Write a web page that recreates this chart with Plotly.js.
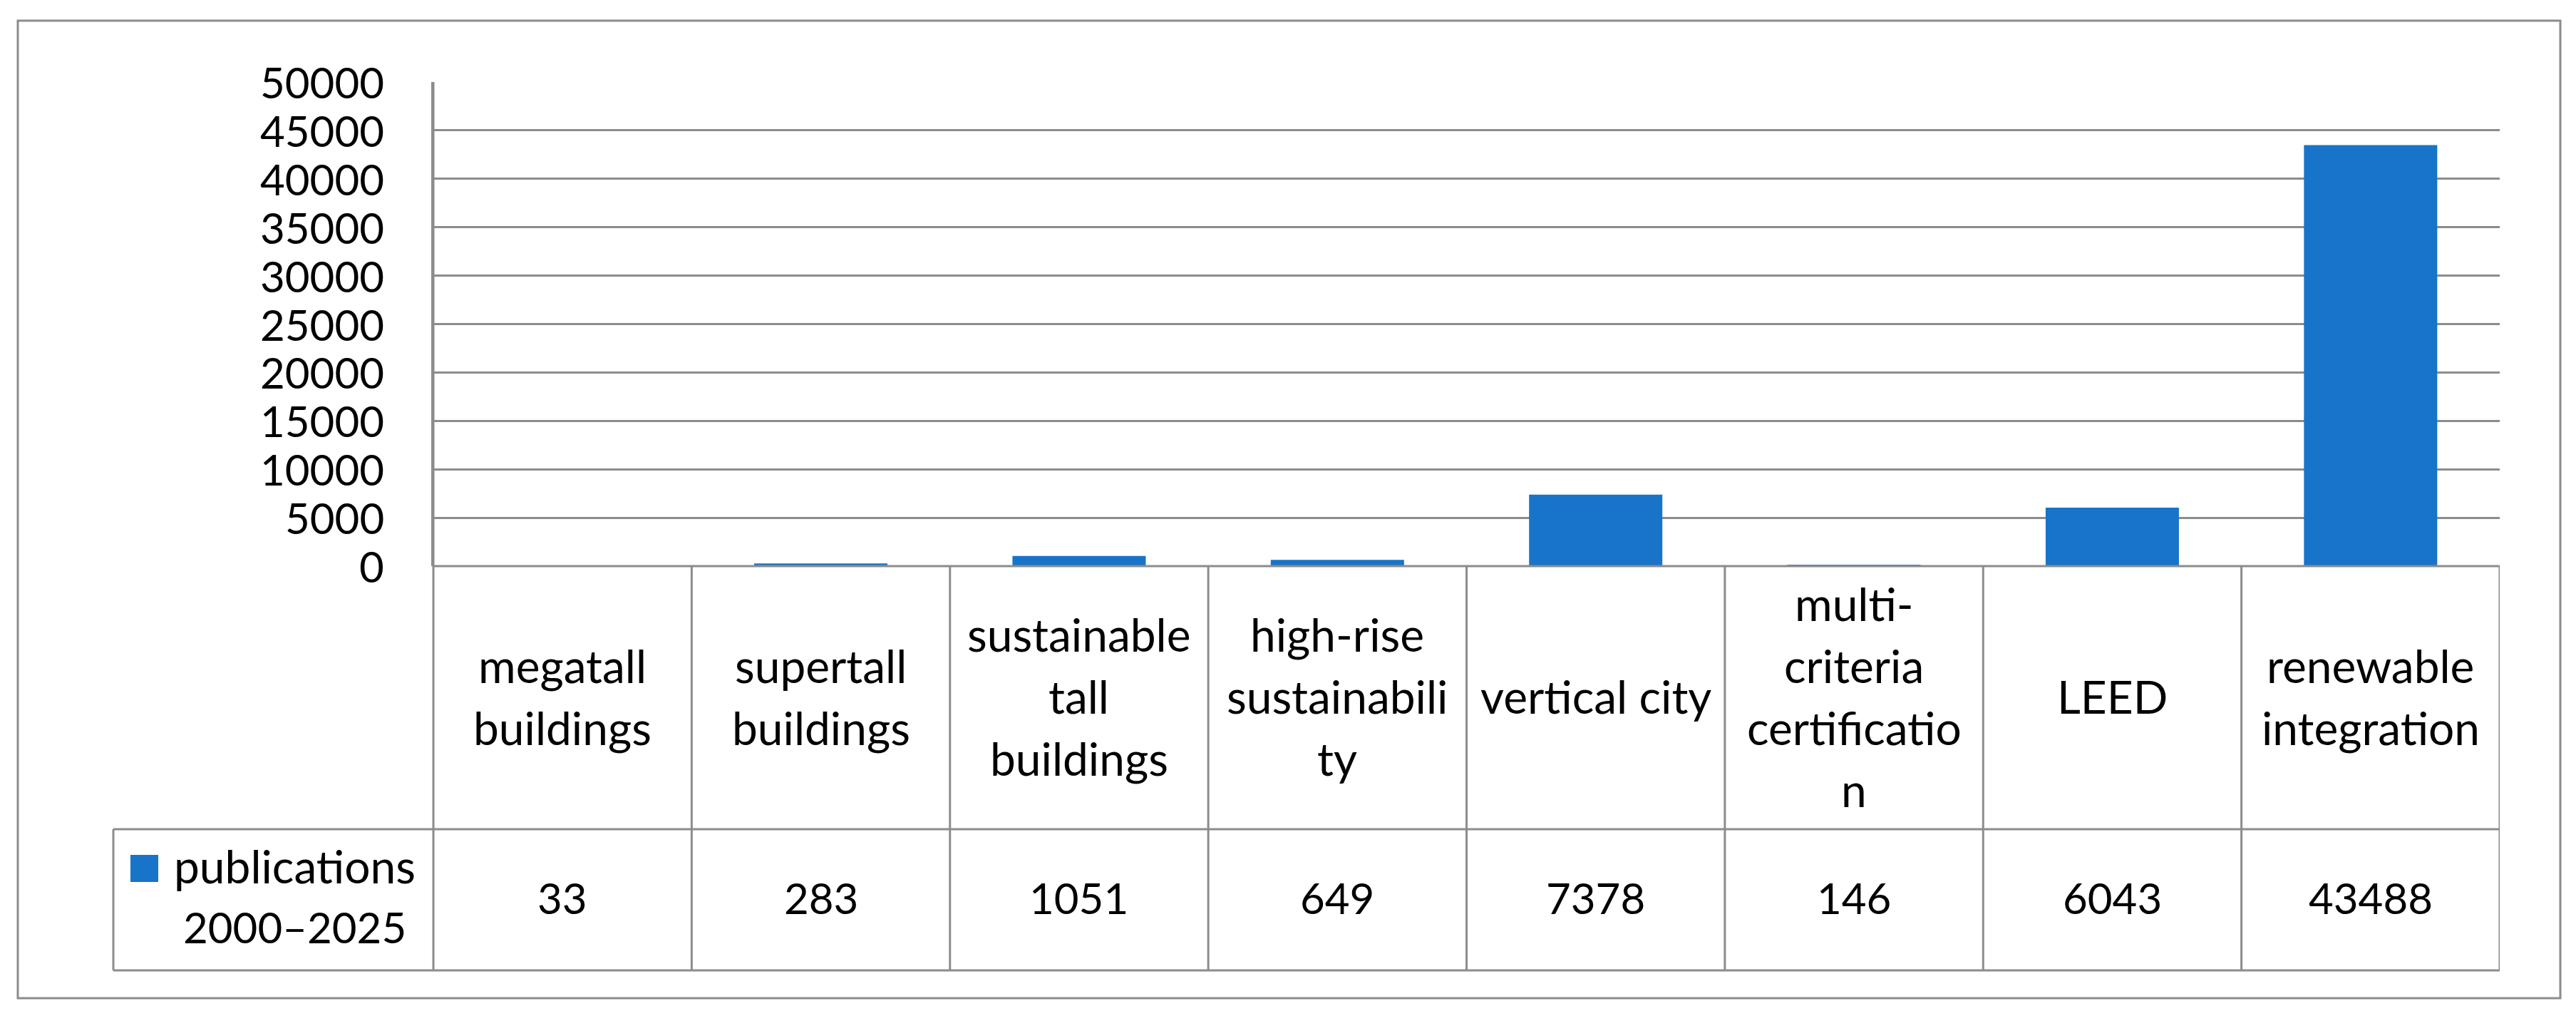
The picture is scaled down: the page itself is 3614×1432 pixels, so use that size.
<!DOCTYPE html>
<html>
<head>
<meta charset="utf-8">
<script src="https://cdn.plot.ly/plotly-3.0.1.min.js"></script>
<style>html,body{margin:0;padding:0;background:#fff;}</style>
</head>
<body>
<div id="chart" style="width:3614px;height:1432px;"></div>
<script>
// ---- data ----
const categories = ["megatall buildings", "supertall buildings", "sustainable tall buildings", "high-rise sustainability", "vertical city", "multi-criteria certification", "LEED", "renewable integration"];
const categoryLines = [["megatall", "buildings"], ["supertall", "buildings"], ["sustainable", "tall", "buildings"], ["high-rise", "sustainabili", "ty"], ["vertical city"], ["multi-", "criteria", "certificatio", "n"], ["LEED"], ["renewable", "integration"]];
const publications = [33, 283, 1051, 649, 7378, 146, 6043, 43488];
const seriesName = "publications 2000–2025";
const seriesNameLines = ["publications", "2000–2025"];
const yTickVals = [0, 5000, 10000, 15000, 20000, 25000, 30000, 35000, 40000, 45000, 50000];
const yTickText = ["0", "5000", "10000", "15000", "20000", "25000", "30000", "35000", "40000", "45000", "50000"];

// ---- geometry (layout only) ----
const W = 3614, H = 1432;
const L = 608, R = 3507, T = 115, B = 794;
const headerBottom = 1163, tableBottom = 1361, legendLeft = 159;
const frame = {x0: 25, y0: 29, x1: 3592, y1: 1400};
const tickLabelRight = 541;
const lineGap = 87;
const FONT = "Lato, 'Open Sans', sans-serif";
const FS_WORD = 64;
const FS_NUM = 60;
const GRID = "#8c8c8c";
const BLUE = "#1874c8";
const px = v => (v - L) / (R - L);
const py = v => (B - v) / (B - T);

const shapes = [];
const annotations = [];
const line = (xref, x0, x1, y0, y1) => ({type: "line", xref: xref, yref: "paper", x0: x0, x1: x1, y0: y0, y1: y1, line: {color: GRID, width: 3}, layer: "above"});

// outer frame
shapes.push({type: "rect", xref: "paper", yref: "paper", x0: px(frame.x0), x1: px(frame.x1), y0: py(frame.y1), y1: py(frame.y0), line: {color: GRID, width: 3}, fillcolor: "rgba(0,0,0,0)", layer: "below"});
// table horizontals
shapes.push(line("paper", px(legendLeft), 1, py(headerBottom), py(headerBottom)));
shapes.push(line("paper", px(legendLeft), 1, py(tableBottom), py(tableBottom)));
shapes.push(line("paper", 0, 1, 0, 0));
// table verticals
shapes.push(line("paper", px(legendLeft), px(legendLeft), py(headerBottom), py(tableBottom)));
shapes.push(line("paper", 0, 0, py(tableBottom), 1));
for (let i = 0; i < categories.length; i++) {
  shapes.push(line("x", i + 0.5, i + 0.5, py(tableBottom), 0));
}
// legend key
shapes.push({type: "rect", xref: "paper", yref: "paper", x0: px(183), x1: px(222), y0: py(1237), y1: py(1199), line: {width: 0}, fillcolor: BLUE});

// y tick labels (placed on the y scale)
yTickVals.forEach((v, k) => {
  annotations.push({xref: "paper", yref: "y", x: px(tickLabelRight), y: v, text: yTickText[k], showarrow: false, xanchor: "right", yanchor: "middle", font: {family: FONT, size: FS_NUM, color: "#000"}});
});

// header labels
const headerCenter = (B + headerBottom) / 2;
categoryLines.forEach((lines, i) => {
  const n = lines.length;
  lines.forEach((t, k) => {
    const c = headerCenter + (k - (n - 1) / 2) * lineGap - 2;
    annotations.push({xref: "x", yref: "paper", x: i, y: py(c), text: t, showarrow: false, xanchor: "center", yanchor: "middle", font: {family: FONT, size: FS_WORD, color: "#000"}});
  });
});
// data row
const dataCenter = (headerBottom + tableBottom) / 2 - 3;
publications.forEach((v, i) => {
  annotations.push({xref: "x", yref: "paper", x: i, y: py(dataCenter), text: String(v), showarrow: false, xanchor: "center", yanchor: "middle", font: {family: FONT, size: FS_NUM, color: "#000"}});
});
// legend text
seriesNameLines.forEach((t, k) => {
  const c = [1214, 1300][k];
  annotations.push({xref: "paper", yref: "paper", x: px(413), y: py(c), text: t, showarrow: false, xanchor: "center", yanchor: "middle", font: {family: FONT, size: k === 0 ? FS_WORD : FS_NUM, color: "#000"}});
});

const data = [{
  type: "bar",
  x: categories,
  y: publications,
  name: seriesName,
  marker: {color: BLUE, line: {width: 0}},
  showlegend: false,
  hoverinfo: "skip"
}];

const layout = {
  width: W, height: H,
  margin: {l: L, r: W - R, t: T, b: H - B, pad: 0},
  paper_bgcolor: "#ffffff",
  plot_bgcolor: "#ffffff",
  bargap: 0.484,
  showlegend: false,
  font: {family: FONT, size: FS_NUM, color: "#000"},
  xaxis: {
    type: "category",
    range: [-0.5, categories.length - 0.5],
    showticklabels: false,
    showgrid: false,
    zeroline: false,
    showline: false,
    ticks: "",
    fixedrange: true
  },
  yaxis: {
    range: [0, 50000],
    tickvals: yTickVals,
    showticklabels: false,
    showgrid: true,
    gridcolor: GRID,
    gridwidth: 3,
    zeroline: false,
    showline: true,
    linecolor: GRID,
    linewidth: 3,
    ticks: "",
    fixedrange: true
  },
  shapes: shapes,
  annotations: annotations
};

Plotly.newPlot("chart", data, layout, {displayModeBar: false, staticPlot: true});
</script>
</body>
</html>
